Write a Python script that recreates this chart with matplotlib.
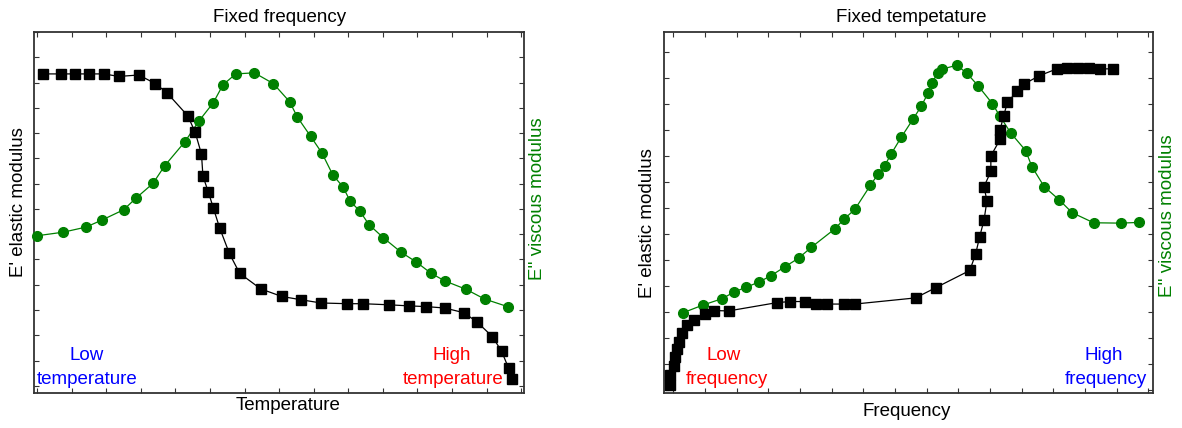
import numpy as np
import matplotlib
matplotlib.use("Agg")
import matplotlib.pyplot as plt

plt.rcParams['font.family'] = ['Liberation Sans', 'DejaVu Sans']

# ---------------- data (arbitrary units, 0-100 of the axis span) ----------------
# Left panel: fixed frequency, x = temperature
temp_elastic_x = [1.9, 5.6, 8.3, 11.2, 14.3, 17.3, 21.4, 24.8, 27.2, 31.4, 32.9, 34.2, 34.5,
                  35.6, 36.6, 37.9, 39.9, 42.0, 46.3, 50.6, 54.5, 58.6, 64.0, 67.1, 72.4,
                  76.5, 80.1, 83.9, 87.8, 90.5, 93.6, 95.5, 96.9, 97.6]
temp_elastic_y = [88.4, 88.4, 88.4, 88.4, 88.4, 87.7, 88.1, 85.7, 83.1, 76.8, 72.3, 66.2, 60.1,
                  55.7, 51.4, 45.8, 38.7, 33.2, 28.9, 26.8, 25.9, 25.0, 24.8, 24.8, 24.5,
                  24.2, 24.0, 23.6, 22.3, 19.7, 15.7, 11.6, 7.0, 4.0]
temp_viscous_x = [0.6, 6.0, 10.6, 13.8, 18.3, 20.9, 24.3, 26.7, 30.8, 33.7, 36.6, 38.6, 41.2,
                  45.0, 48.9, 52.2, 53.8, 56.5, 58.8, 61.0, 63.1, 64.6, 66.5, 68.4, 71.3,
                  75.0, 78.0, 81.1, 83.9, 88.2, 92.0, 96.7]
temp_viscous_y = [43.6, 44.6, 46.0, 47.9, 50.8, 54.1, 58.1, 63.0, 69.6, 75.4, 80.4, 85.4, 88.4,
                  88.7, 85.7, 80.7, 76.4, 71.1, 66.5, 60.5, 57.1, 53.1, 50.5, 46.7, 43.1,
                  39.0, 36.4, 33.2, 31.1, 28.8, 26.1, 24.0]

# Right panel: fixed temperature, x = frequency
freq_elastic_x = [1.2, 1.2, 2.0, 2.2, 2.7, 3.1, 3.7, 4.6, 6.1, 8.4, 10.3, 13.2, 23.1, 25.8,
                  28.8, 31.1, 33.3, 36.8, 39.0, 51.4, 55.5, 62.5, 63.7, 64.5, 65.4, 66.0,
                  65.4, 66.8, 66.8, 68.7, 68.7, 69.4, 70.2, 72.2, 73.6, 76.7, 80.3, 82.4,
                  84.7, 86.9, 89.1, 91.7]
freq_elastic_y = [2.2, 5.1, 7.6, 10.1, 12.3, 14.3, 16.6, 19.0, 20.3, 22.0, 22.9, 22.8, 25.1, 25.4,
                  25.4, 24.7, 24.7, 24.7, 24.7, 26.4, 29.2, 34.0, 38.6, 43.3, 47.9, 53.3,
                  57.2, 61.4, 65.7, 70.3, 72.9, 76.8, 80.5, 83.7, 85.6, 87.9, 89.8, 90.0,
                  90.0, 90.0, 89.8, 89.8]
freq_viscous_x = [3.9, 7.9, 11.9, 14.4, 16.7, 19.4, 21.8, 24.7, 27.5, 30.1, 34.9, 36.8, 39.0,
                  42.2, 43.7, 45.1, 46.4, 48.5, 50.9, 52.6, 54.0, 54.8, 55.9, 56.8, 59.8,
                  61.9, 64.2, 67.1, 68.6, 70.9, 73.9, 75.2, 77.7, 80.8, 83.4, 87.8, 93.3, 97.1]
freq_viscous_y = [22.3, 24.4, 26.2, 28.1, 29.3, 30.8, 32.5, 35.0, 37.4, 40.4, 45.5, 48.2, 50.9,
                  57.6, 60.6, 63.0, 66.2, 70.9, 75.9, 79.5, 83.2, 86.0, 88.6, 89.7, 90.8,
                  88.6, 85.1, 80.2, 76.8, 72.0, 67.2, 62.7, 57.2, 53.5, 50.0, 47.2, 47.1, 47.3]

titles = ["Fixed frequency", "Fixed tempetature"]
xlabels = ["Temperature", "Frequency"]
left_label = "E' elastic modulus"
right_label = "E'' viscous modulus"
corner_left = ["Low\ntemperature", "Low\nfrequency"]
corner_right = ["High\ntemperature", "High\nfrequency"]

# ---------------- figure ----------------
W, H = 1182, 428
fig = plt.figure(figsize=(W / 100, H / 100), dpi=100)

def px_axes(x0, y0, x1, y1):
    return fig.add_axes([x0 / W, 1 - y1 / H, (x1 - x0) / W, (y1 - y0) / H])

ax1 = px_axes(34, 32, 523.7, 393.3)
ax2 = px_axes(664, 32, 1153.3, 393.3)

GREEN = "#008000"
FS = 13.5

def style(ax, xt, yt):
    ax.set_xlim(0, 100)
    ax.set_ylim(0, 100)
    ax.set_xticks(xt)
    ax.set_yticks(yt)
    ax.tick_params(direction='in', length=3.5, width=0.8, color='#333333',
                   top=True, right=True, labelbottom=False, labelleft=False)
    for s in ax.spines.values():
        s.set_linewidth(1.3)
        s.set_color('#333333')

style(ax1, 0.63 + 7.06 * np.arange(15), 100 - 6.994 * np.arange(15))
style(ax2, 1.9 + 6.47 * np.arange(16), 94.4 - 7.196 * np.arange(14))

for ax, ex, ey, vx, vy in [(ax1, temp_elastic_x, temp_elastic_y, temp_viscous_x, temp_viscous_y),
                           (ax2, freq_elastic_x, freq_elastic_y, freq_viscous_x, freq_viscous_y)]:
    ax.plot(vx, vy, '-o', color=GREEN, lw=0.9, ms=7, mec=GREEN, clip_on=False, zorder=3)
    ax.plot(ex, ey, '-s', color='black', lw=0.9, ms=6.8, clip_on=False, zorder=4)

def ftext(x, y, s, **kw):
    fig.text(x / W, 1 - y / H, s, ha='center', va='center', fontsize=FS, **kw)

ftext(280, 18, titles[0])
ftext(911, 18, titles[1])
ftext(288, 406, xlabels[0])
ftext(907, 411, xlabels[1])
ftext(19, 202, left_label, rotation=90)
ftext(647, 223, left_label, rotation=90)
ftext(538, 199, right_label, rotation=90, color=GREEN)
ftext(1168, 216, right_label, rotation=90, color=GREEN)

ftext(87, 356, "Low", color='blue')
ftext(87, 379, "temperature", color='blue')
ftext(452, 356, "High", color='red')
ftext(453, 379, "temperature", color='red')
ftext(724, 356, "Low", color='red')
ftext(727, 379, "frequency", color='red')
ftext(1104, 356, "High", color='blue')
ftext(1106, 379, "frequency", color='blue')

fig.savefig("out.png", dpi=100)
